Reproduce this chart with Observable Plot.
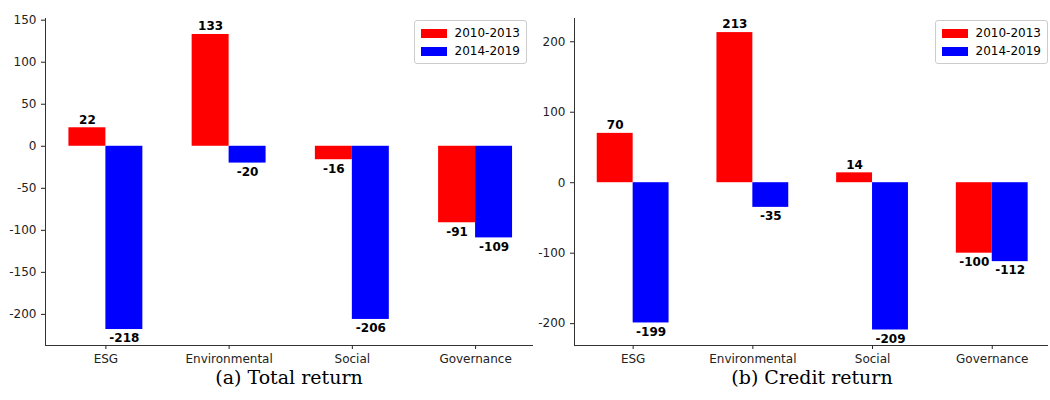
<!DOCTYPE html>
<html><head><meta charset="utf-8">
<script src="https://cdn.jsdelivr.net/npm/d3@7"></script>
<script src="https://cdn.jsdelivr.net/npm/@observablehq/plot@0.6"></script>
<style>
body{margin:0;background:#fff;font-family:"DejaVu Sans",sans-serif}
#wrap{display:flex;width:1050px}
.panel{position:relative}
.cap{text-align:center;font-family:"DejaVu Serif",serif;font-size:19px;margin-top:-2px}
.legend{position:absolute;top:20px;border:1px solid #ccc;border-radius:3px;background:#fff;padding:3px 6px;font-size:12px;line-height:18px}
.sw{display:inline-block;width:26px;height:9px;margin-right:8px;vertical-align:-1px}
</style></head><body>
<div id="wrap"></div>
<script>
const categories = ["ESG", "Environmental", "Social", "Governance"];
const periods = ["2010-2013", "2014-2019"];
const totalReturn = {"2010-2013": [22, 133, -16, -91], "2014-2019": [-218, -20, -206, -109]};
const creditReturn = {"2010-2013": [70, 213, 14, -100], "2014-2019": [-199, -35, -209, -112]};
const colors = ["#ff0000", "#0000ff"];
const BAR = 0.3;
const XDOM = [-0.49, 3.47];

function panel(values, caption, opts) {
  const data = periods.flatMap((p, j) => categories.map((c, i) => ({
    x1: i + (j - 1) * BAR, x2: i + j * BAR, xm: i + (j - 0.5) * BAR, period: p, v: values[p][i]})));
  const label = (filter, dy) => Plot.text(data.filter(filter), {x: "xm", y: "v", text: d => d.v,
    dy, fontWeight: "bold", fontSize: 12, fill: "black"});
  const chart = Plot.plot({
    width: opts.width, height: 368,
    marginLeft: opts.ml, marginRight: opts.mr, marginTop: 18, marginBottom: 23,
    style: {fontFamily: "DejaVu Sans", fontSize: "12px", color: "#222"},
    x: {domain: XDOM, ticks: [0, 1, 2, 3], tickFormat: i => categories[i], label: null, tickSize: 4},
    y: {domain: opts.ydomain, ticks: opts.ticks, tickFormat: d => String(d), label: null, tickSize: 4},
    color: {domain: periods, range: colors},
    marks: [
      Plot.rectY(data, {x1: "x1", x2: "x2", y1: 0, y2: "v", fill: "period"}),
      label(d => d.v >= 0, -8),
      label(d => d.v < 0, 9),
      Plot.ruleX([XDOM[0]], {stroke: "#333"}),
      Plot.ruleY([opts.ydomain[0]], {stroke: "#333"})
    ]
  });
  const div = document.createElement("div");
  div.className = "panel";
  div.appendChild(chart);
  const lg = document.createElement("div");
  lg.className = "legend";
  lg.style.right = opts.legRight + "px";
  lg.innerHTML = periods.map((p, i) => `<div><span class="sw" style="background:${colors[i]}"></span>${p}</div>`).join("");
  div.appendChild(lg);
  const cap = document.createElement("div");
  cap.className = "cap";
  cap.style.paddingLeft = opts.ml + "px";
  cap.textContent = caption;
  div.appendChild(cap);
  document.getElementById("wrap").appendChild(div);
}

panel(totalReturn, "(a) Total return", {width: 533, ml: 45, mr: 0, ydomain: [-237, 152], ticks: d3.range(-200, 151, 50), legRight: 6});
panel(creditReturn, "(b) Credit return", {width: 517, ml: 41, mr: 2, ydomain: [-231, 233], ticks: [-200, -100, 0, 100, 200], legRight: 2});
</script></body></html>
